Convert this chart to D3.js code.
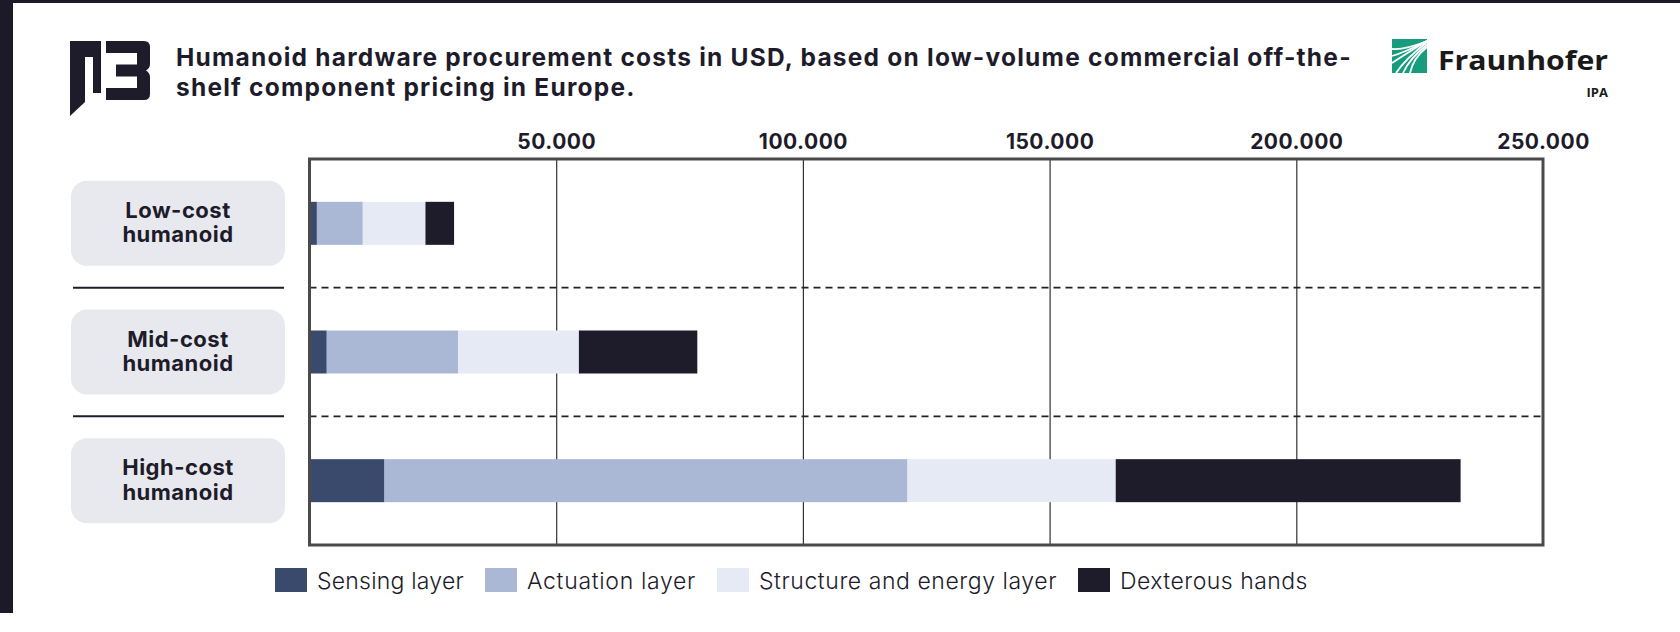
<!DOCTYPE html>
<html lang="en">
<head>
<meta charset="UTF-8">
<title>Humanoid hardware procurement costs</title>
<script src="https://cdn.jsdelivr.net/npm/d3@7"></script>
<style>
  html, body { margin: 0; padding: 0; background: #fff; }
  svg { display: block; }
</style>
</head>
<body>
<script>
// ---- data ----
var categories = ["Low-cost humanoid", "Mid-cost humanoid", "High-cost humanoid"];
var seriesNames = ["Sensing layer", "Actuation layer", "Structure and energy layer", "Dexterous hands"];
var sensing   = [1500, 3500, 15200];
var actuation = [9300, 26600, 106000];
var structure = [12700, 24500, 42200];
var hands     = [5800, 24000, 69900];
var tickValues = [50000, 100000, 150000, 200000, 250000];
var colors = ["#3a4a6d", "#aab8d6", "#e6eaf5", "#1e1b2b"];

var width = 1680, height = 632;
var plot = { left: 309.5, right: 1543, top: 159, bottom: 545 };
var font = "Inter, 'Open Sans', sans-serif";
var ink = "#1e1b2b";

var rows = categories.map(function (c, i) {
  return { cat: c, s0: sensing[i], s1: actuation[i], s2: structure[i], s3: hands[i] };
});
var keys = ["s0", "s1", "s2", "s3"];

// stretch a text node to a target width with letter-spacing (Montserrat is wider than Inter)
function fitWidth(sel, target) {
  var node = sel.node();
  var w = node.getComputedTextLength();
  var n = sel.text().length;
  sel.attr("letter-spacing", ((target - w) / n).toFixed(2));
}

var svg = d3.select("body").append("svg")
  .attr("width", width)
  .attr("height", height);

// frame strips
svg.append("rect").attr("x", 0).attr("y", 0).attr("width", 13).attr("height", 613).attr("fill", "#1c1a29");
svg.append("rect").attr("x", 0).attr("y", 0).attr("width", width).attr("height", 3).attr("fill", "#1c1a29");

var x = d3.scaleLinear().domain([0, 250000]).range([plot.left, plot.right]);
var y = d3.scaleBand().domain(categories).range([plot.top, plot.bottom]).padding(0);

var fmt = d3.formatLocale({ decimal: ",", thousands: ".", grouping: [3], currency: ["", ""] }).format(",");

// gridlines
svg.append("g")
  .attr("transform", "translate(0," + plot.bottom + ")")
  .call(d3.axisTop(x).tickValues(tickValues.slice(0, 4)).tickSize(plot.bottom - plot.top).tickFormat(""))
  .call(function (g) { g.select(".domain").remove(); })
  .selectAll("line").attr("stroke", "#333").attr("stroke-width", 1.2);

// tick labels
svg.append("g")
  .attr("transform", "translate(0," + 149 + ")")
  .call(d3.axisTop(x).tickValues(tickValues).tickSize(0).tickPadding(0).tickFormat(fmt))
  .call(function (g) { g.select(".domain").remove(); })
  .selectAll("text")
  .attr("font-family", font).attr("font-weight", 700).attr("font-size", 21)
  .attr("letter-spacing", 0.5).attr("fill", ink);

// row separators
var seps = categories.slice(0, -1);
svg.selectAll(".dash").data(seps).enter().append("line")
  .attr("x1", plot.left).attr("x2", plot.right)
  .attr("y1", function (d) { return y(d) + y.bandwidth(); })
  .attr("y2", function (d) { return y(d) + y.bandwidth(); })
  .attr("stroke", "#222").attr("stroke-width", 1.6).attr("stroke-dasharray", "7,5");
svg.selectAll(".solid").data(seps).enter().append("line")
  .attr("x1", 73).attr("x2", 284)
  .attr("y1", function (d) { return y(d) + y.bandwidth(); })
  .attr("y2", function (d) { return y(d) + y.bandwidth(); })
  .attr("stroke", ink).attr("stroke-width", 2);

// stacked bars
var barH = 43;
var stacked = d3.stack().keys(keys)(rows);
svg.append("g").selectAll("g").data(stacked).enter().append("g")
  .attr("fill", function (d, i) { return colors[i]; })
  .selectAll("rect").data(function (d) { return d; }).enter().append("rect")
  .attr("x", function (d) { return x(d[0]); })
  .attr("width", function (d) { return x(d[1]) - x(d[0]); })
  .attr("y", function (d) { return y(d.data.cat) + y.bandwidth() / 2 - barH / 2; })
  .attr("height", barH);

// plot frame
svg.append("rect")
  .attr("x", plot.left).attr("y", plot.top)
  .attr("width", plot.right - plot.left).attr("height", plot.bottom - plot.top)
  .attr("fill", "none").attr("stroke", "#4a4a4a").attr("stroke-width", 3);

// category label boxes
var lab = svg.append("g").selectAll("g").data(categories).enter().append("g")
  .attr("transform", function (d) { return "translate(178," + (y(d) + y.bandwidth() / 2) + ")"; });
lab.append("rect")
  .attr("x", -107).attr("y", -42.5).attr("width", 214).attr("height", 85)
  .attr("rx", 16).attr("fill", "#e8e9ee");
lab.append("text")
  .attr("text-anchor", "middle")
  .attr("font-family", font).attr("font-weight", 700).attr("font-size", 22)
  .attr("letter-spacing", 0.5).attr("fill", ink)
  .selectAll("tspan").data(function (d) { return d.split(" "); }).enter().append("tspan")
  .attr("x", 0)
  .attr("y", function (d, i) { return i === 0 ? -5.5 : 19; })
  .text(function (d) { return d; });

// title
var t1 = svg.append("text").attr("x", 176).attr("y", 66)
  .attr("font-family", font).attr("font-weight", 700).attr("font-size", 24.5).attr("fill", ink)
  .text("Humanoid hardware procurement costs in USD, based on low-volume commercial off-the-");
var t2 = svg.append("text").attr("x", 176).attr("y", 96)
  .attr("font-family", font).attr("font-weight", 700).attr("font-size", 24.5).attr("fill", ink)
  .text("shelf component pricing in Europe.");
fitWidth(t1, 1176);
t2.attr("letter-spacing", t1.attr("letter-spacing"));

// P3 logo
svg.append("path")
  .attr("d", "M70,41 L101,41 L101,93 L93,93 L93,57 L85,57 L85,102 L70,116 Z")
  .attr("fill", ink);
svg.append("path")
  .attr("d", "M106,41 L144,41 Q150,41 150,47 L150,64 Q150,68 146,70.5 Q150,73 150,77 L150,94 Q150,100 144,100 L106,100 L106,88 L137,88 L137,76.5 L116,76.5 L116,64.5 L137,64.5 L137,53 L106,53 Z")
  .attr("fill", ink);

// Fraunhofer logo
var fh = svg.append("g");
fh.append("rect").attr("x", 1392).attr("y", 39).attr("width", 35).attr("height", 34).attr("fill", "#179c7d");
[[0, 10], [0, 17], [0, 24], [4, 34], [11, 34], [18, 34]].forEach(function (p) {
  fh.append("path")
    .attr("d", "M" + (1392 + p[0]) + "," + (39 + p[1]) + " Q" + (1392 + 12 + p[0] / 2) + "," + (39 + 8 + p[1] / 3) + " 1427," + (39 + 2 + p[0] / 3))
    .attr("fill", "none").attr("stroke", "#fff").attr("stroke-width", 1.8);
});
fh.append("text").attr("x", 1438).attr("y", 70)
  .attr("font-family", "'Open Sans', sans-serif").attr("font-weight", 700).attr("font-size", 27)
  .attr("textLength", 170).attr("lengthAdjust", "spacingAndGlyphs")
  .attr("fill", "#1a1a1a").text("Fraunhofer");
fh.append("text").attr("x", 1608).attr("y", 97).attr("text-anchor", "end")
  .attr("font-family", "'Open Sans', sans-serif").attr("font-weight", 700).attr("font-size", 13)
  .attr("fill", "#1a1a1a").text("IPA");

// legend
var legendWidths = [147, 169, 298, 188];
var legend = svg.append("g");
var lx = 275;
seriesNames.forEach(function (name, i) {
  var it = legend.append("g").attr("transform", "translate(" + lx + ",568)");
  it.append("rect").attr("width", 32).attr("height", 24).attr("fill", colors[i]);
  var t = it.append("text").attr("x", 42).attr("y", 21)
    .attr("font-family", font).attr("font-weight", 300).attr("font-size", 23)
    .attr("fill", ink).text(name);
  fitWidth(t, legendWidths[i]);
  lx += 42 + legendWidths[i] + 21;
});
</script>
</body>
</html>
